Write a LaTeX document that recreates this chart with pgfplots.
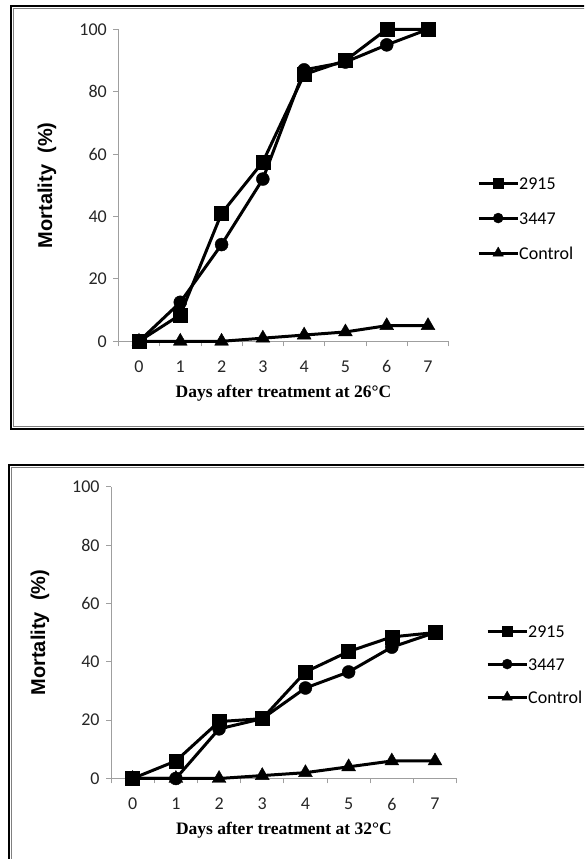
\documentclass[border=0pt]{standalone}
\usepackage{fontspec}
\setmainfont{Carlito}
\newfontfamily\arialfont{Liberation Sans}
\newfontfamily\timesfont{Liberation Serif}
\usepackage{pgfplots}
\pgfplotsset{compat=1.18}

\pgfplotsset{
  mort/.style={
    scale only axis, clip=false,
    axis x line=bottom, axis y line=left,
    axis line style={gray!75, line width=0.8pt, -},
    xmin=-0.5, xmax=7.5, ymin=0, ymax=100,
    xtick={0,...,7}, minor xtick={-0.5,0.5,...,7.5}, ytick={0,20,...,100},
    major x tick style={draw=none},
    tick align=outside, tick style={gray!75, line width=0.8pt},
    major tick length=5pt, minor tick length=5pt,
    tick label style={font=\fontsize{18}{18}\selectfont, text=black!85},
    yticklabel style={xshift=-3pt},
    xticklabel style={yshift=-11pt},
    /pgf/number format/assume math mode=true,
    ylabel={\arialfont\bfseries Mortality~~(\%)},
    ylabel style={font=\fontsize{20}{20}\selectfont, anchor=center},
    xlabel style={font=\fontsize{17.5}{17.5}\selectfont, anchor=center},
    every axis plot/.append style={black, line width=3pt},
    legend cell align=left,
    legend style={draw=none, fill=none, inner sep=0pt, anchor=west,
      font=\fontsize{18}{18}\selectfont,
      nodes={inner sep=0pt, text height=12pt, text depth=0pt},
      /tikz/every even column/.append style={column sep=3pt}},
    legend image code/.code={
      \draw[mark repeat=2, mark phase=2, #1]
        plot coordinates {(0pt,0pt) (19.5pt,0pt) (39pt,0pt)};},
  },
  s2915/.style={mark=square*, mark size=7pt, mark options={solid, line width=0.4pt},
    legend image post style={mark size=5pt}},
  s3447/.style={mark=*, mark size=6.5pt, mark options={solid, line width=0.4pt},
    legend image post style={mark size=5pt}},
  sctrl/.style={mark=triangle*, mark size=8pt, mark options={solid, line width=0.4pt},
    legend image post style={mark size=6pt}},
}

\begin{document}
\begin{tikzpicture}[x=1pt, y=1pt]
\useasboundingbox (0,0) rectangle (584,859);
\begin{scope}
  \clip (0,0) rectangle (584,859);
  \draw[black, line width=2.5pt] (11,430) rectangle (650,853);
  \draw[gray, line width=1pt] (13.5,432.5) rectangle (650,850.5);
  \draw[black, line width=2.5pt] (9,-60) rectangle (650,394);
  \draw[gray, line width=1pt] (11.5,-60) rectangle (650,391.5);
\end{scope}

% 26 C
\begin{axis}[mort, at={(118.35pt,517.7pt)}, anchor=south west,
  width=330.3pt, height=312pt,
  xlabel={\timesfont\bfseries Days after treatment at 26°C},
  xlabel style={at={(axis description cs:0.5,-0.165)}},
  ylabel style={at={(axis description cs:-0.216,0.5)}},
  legend style={at={(axis description cs:1.0858,0.395)},
    row sep=23pt}]
\addplot[s2915] coordinates {(0,0) (1,8.5) (2,41) (3,57.5) (4,85.5) (5,90) (6,100) (7,100)};
\addplot[s3447] coordinates {(0,0) (1,12.5) (2,31) (3,52) (4,87) (5,89.5) (6,95) (7,100)};
\addplot[sctrl] coordinates {(0,0) (1,0) (2,0) (3,1) (4,2) (5,3) (6,5) (7,5)};
\legend{2915, 3447, Control}
\end{axis}

% 32 C
\begin{axis}[mort, at={(111.1pt,80.5pt)}, anchor=south west,
  width=345.5pt, height=291.9pt,
  xlabel={\timesfont\bfseries Days after treatment at 32°C},
  xlabel style={at={(axis description cs:0.5,-0.176)}},
  ylabel style={at={(axis description cs:-0.206,0.5)}},
  legend style={at={(axis description cs:1.085,0.392)},
    row sep=21pt}]
\addplot[s2915] coordinates {(0,0) (1,6) (2,19.5) (3,20.5) (4,36.5) (5,43.5) (6,48.5) (7,50)};
\addplot[s3447] coordinates {(0,0) (1,0) (2,17) (3,20.5) (4,31) (5,36.5) (6,45) (7,50)};
\addplot[sctrl] coordinates {(0,0) (1,0) (2,0) (3,1) (4,2) (5,4) (6,6) (7,6)};
\legend{2915, 3447, Control}
\end{axis}
\end{tikzpicture}
\end{document}
